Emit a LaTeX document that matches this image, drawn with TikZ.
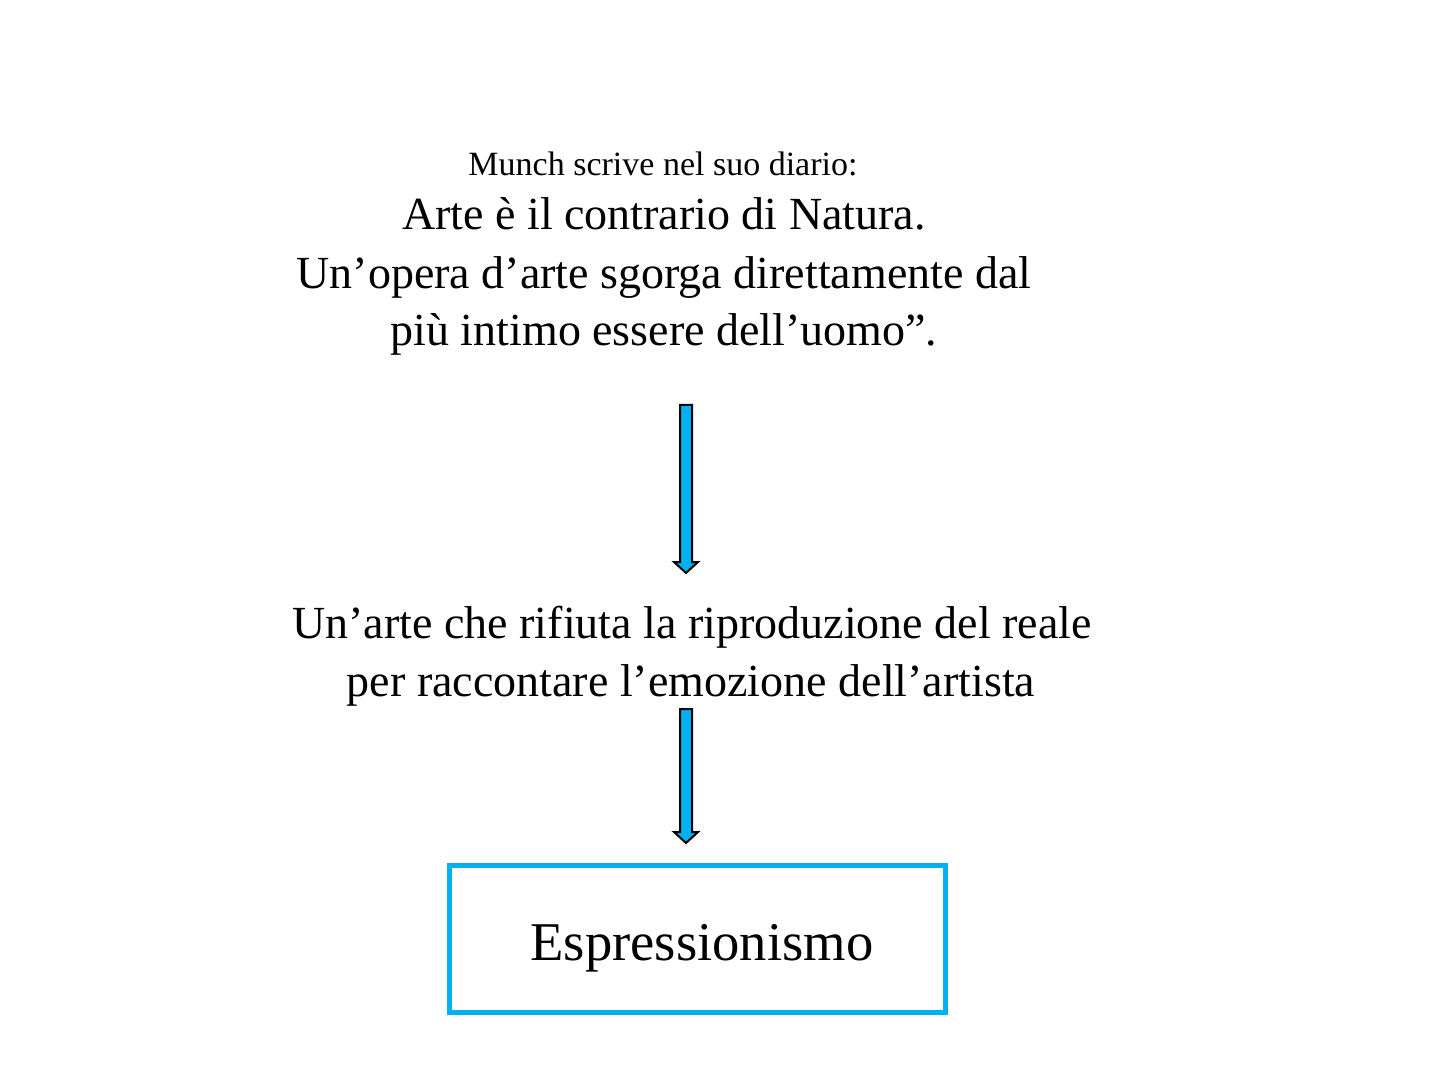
\documentclass[tikz,border=0pt]{standalone}
\usepackage{fontspec}
\setmainfont{Liberation Serif}
\usetikzlibrary{calc}
\definecolor{arrowblue}{RGB}{0,176,240}
\newcommand\blockarrow[2]{%
  \draw[barrow] ($(#1)+(-6,0)$) -- ($(#1)+(6,0)$) -- ($(#2)+(6,-11)$) -- ($(#2)+(12,-11)$)
    -- (#2) -- ($(#2)+(-12,-11)$) -- ($(#2)+(-6,-11)$) -- cycle;}
\begin{document}
\begin{tikzpicture}[x=0.5pt,y=-0.5pt,
  bigtxt/.style={inner sep=0pt, anchor=base, font=\fontsize{23}{29}\selectfont},
  smalltxt/.style={inner sep=0pt, anchor=base, font=\fontsize{17}{20}\selectfont},
  barrow/.style={draw=black, line width=1pt, fill=arrowblue, line join=miter},
  termbox/.style={draw=arrowblue, line width=2.5pt, minimum width=248pt, minimum height=73.5pt,
    inner sep=0pt, font=\fontsize{27.3}{32}\selectfont}]
\useasboundingbox (0,0) rectangle (1440,1080);
\node[smalltxt] (munch) at (663,176) {Munch scrive nel suo diario:};
\node[bigtxt] (l1) at (664,230) {Arte è il contrario di Natura.};
\node[bigtxt] (l2) at (664,289) {Un’opera d’arte sgorga direttamente dal};
\node[bigtxt] (l3) at (664,346) {più intimo essere dell’uomo”.};
\node[bigtxt] (m1) at (692,638) {Un’arte che rifiuta la riproduzione del reale};
\node[bigtxt] (m2) at (691,696) {per raccontare l’emozione dell’artista};
\node[termbox] (esp) at (697,938.5) {\raisebox{-5pt}[\height][\depth]{\hspace*{5pt}Espressionismo}};
\coordinate (a1top) at (686,405);
\coordinate (a1tip) at (686,573);
\coordinate (a2top) at (686,709);
\coordinate (a2tip) at (686,843);
\blockarrow{a1top}{a1tip}
\blockarrow{a2top}{a2tip}
\end{tikzpicture}
\end{document}
